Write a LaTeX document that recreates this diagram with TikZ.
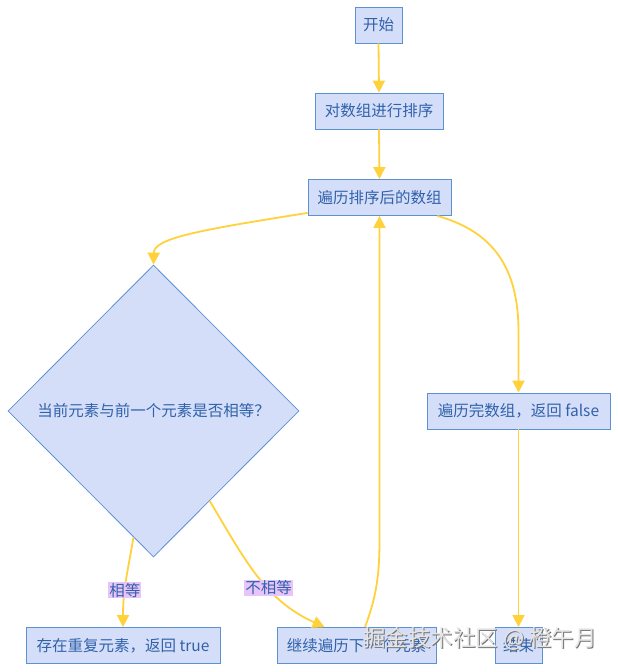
\documentclass[tikz,border=0pt]{standalone}
\usepackage{fontspec}
\setmainfont{Noto Sans CJK SC}
\usetikzlibrary{arrows.meta,shapes.geometric}

\definecolor{nodefill}{RGB}{213,222,249}
\definecolor{nodeline}{RGB}{92,145,210}
\definecolor{nodetext}{RGB}{48,98,170}
\definecolor{flowline}{RGB}{255,210,60}
\definecolor{labelfill}{RGB}{232,196,250}

\tikzset{
  box/.style={draw=nodeline, fill=nodefill, text=nodetext, line width=0.8pt,
    minimum height=36, inner xsep=8, font=\fontsize{15.5}{18}\selectfont},
  cond/.style={diamond, draw=nodeline, fill=nodefill, text=nodetext, line width=0.8pt,
    minimum width=291, minimum height=292, inner sep=0pt, font=\fontsize{15.5}{18}\selectfont},
  flow/.style={draw=flowline, line width=1.8pt, -{Triangle[length=12pt,width=12pt]}},
  edgelabel/.style={fill=labelfill, text=nodetext, inner sep=1pt, font=\fontsize{15.5}{18}\selectfont},
  stamp/.style={font=\fontsize{22.5}{26}\selectfont}
}

\begin{document}
\begin{tikzpicture}[x=1pt, y=-1pt]
        \useasboundingbox (0,0) rectangle (618,672);

        % nodes
        \node [box, minimum width=47] (start) at (378.5,25) {开始};
        \node [box, minimum width=128] (sort) at (379,111) {对数组进行排序};
        \node [box, minimum width=143] (loop) at (379.5,197.5) {遍历排序后的数组};
        \node [cond] (same) at (153.5,411) {当前元素与前一个元素是否相等？};
        \node [box, minimum width=183] (done) at (518.5,411) {遍历完数组，返回 false};
        \node [box, minimum width=194] (dup) at (123,645.5) {存在重复元素，返回 true};
        \node [box, minimum width=159] (next) at (356.5,645.5) {继续遍历下一个元素};
        \node [box, minimum width=47] (end) at (518.5,645.5) {结束};

        % connectors
        \draw [flow] (start.south) -- (sort.north);
        \draw [flow] (sort.south) -- (loop.north);
        \draw [flow] ([yshift=3]loop.south west) .. controls (200,230) and (154,238) .. (same.north);
        \draw [flow] ([xshift=-14]loop.south east) .. controls (495,232) and (518,270) .. (518.5,330) -- (done.north);
        \draw [flow] (same.-99) .. controls (127,575) and (123,590) .. node[edgelabel, pos=0.6] {相等} (dup.north);
        \draw [flow] (same.-58) .. controls (245,560) and (265,600) .. node[edgelabel, pos=0.6] {不相等} (next.150);
        \draw [flow] ([xshift=8.5]next.north) .. controls (375,600) and (379.5,580) .. (379.5,540) -- (loop.south);
        \draw [flow] (done.south) -- (end.north);

        % watermark
        \node [stamp, text=black!55] (stampshade) at (481,640) {掘金技术社区 @ 橙午月};
        \node [stamp, text=white!80!gray] (stamptext) at (480,639) {掘金技术社区 @ 橙午月};
\end{tikzpicture}
\end{document}
